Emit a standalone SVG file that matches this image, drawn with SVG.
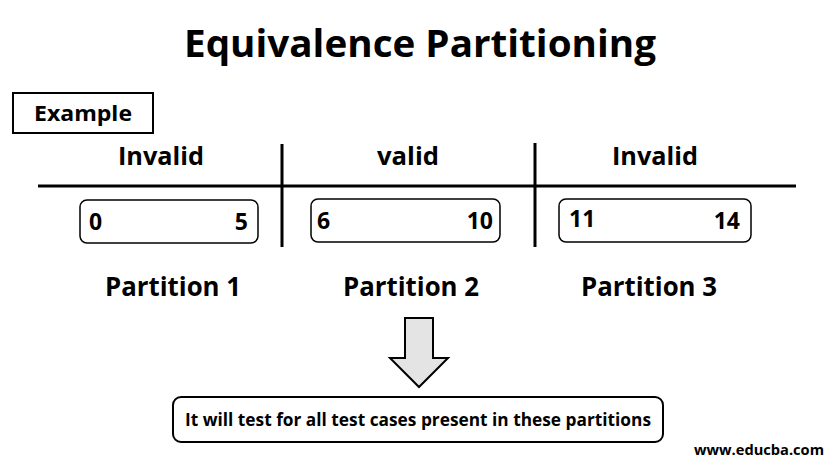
<svg xmlns="http://www.w3.org/2000/svg" width="840" height="471" viewBox="0 0 840 471">
<style>
text{font-family:"Open Sans","Noto Sans","Liberation Sans",sans-serif;font-weight:bold;fill:#000}
.c{text-anchor:middle}
.e{text-anchor:end}
.n{font-size:23px}
.box{fill:#fff;stroke:#000;stroke-width:1.5}
.ln{stroke:#000;stroke-width:3;fill:none}
</style>
<rect width="840" height="471" fill="#fff"/>
<g id="title"><text x="420" y="57" class="c" font-size="38" textLength="472" lengthAdjust="spacingAndGlyphs">Equivalence Partitioning</text></g>
<g id="example"><rect x="13" y="93" width="140" height="40" fill="#fff" stroke="#000" stroke-width="2"/><text x="83" y="121" class="c" font-size="21" textLength="98" lengthAdjust="spacingAndGlyphs">Example</text></g>
<g id="connectors">
<line class="ln" x1="38" y1="186" x2="796" y2="186"/>
<line class="ln" x1="282" y1="144" x2="282" y2="247"/>
<line class="ln" x1="535" y1="143" x2="535" y2="247"/>
<path d="M405,318 H433 V358 H448 L419,387 L390,358 H405 Z" fill="#e4e4e4" stroke="#000" stroke-width="2" stroke-linejoin="miter"/>
</g>
<g id="header1"><text x="161" y="165" class="c" font-size="25" textLength="86" lengthAdjust="spacingAndGlyphs">Invalid</text></g>
<g id="header2"><text x="408" y="165" class="c" font-size="25" textLength="62" lengthAdjust="spacingAndGlyphs">valid</text></g>
<g id="header3"><text x="655" y="165" class="c" font-size="25" textLength="86" lengthAdjust="spacingAndGlyphs">Invalid</text></g>
<g id="range1"><rect class="box" x="80" y="200" width="178" height="43" rx="7"/><text x="89" y="230" class="n">0</text><text x="248" y="230" class="e n">5</text></g>
<g id="range2"><rect class="box" x="311" y="199" width="189" height="43" rx="7"/><text x="317" y="229" class="n">6</text><text x="493" y="229" class="e n">10</text></g>
<g id="range3"><rect class="box" x="559" y="199" width="192" height="43" rx="7"/><text x="569" y="227" class="n">11</text><text x="740" y="229" class="e n">14</text></g>
<g id="partition1"><text x="173" y="296" class="c" font-size="27" textLength="136" lengthAdjust="spacingAndGlyphs">Partition 1</text></g>
<g id="partition2"><text x="411" y="296" class="c" font-size="27" textLength="136" lengthAdjust="spacingAndGlyphs">Partition 2</text></g>
<g id="partition3"><text x="649" y="296" class="c" font-size="27" textLength="136" lengthAdjust="spacingAndGlyphs">Partition 3</text></g>
<g id="result"><rect x="173" y="397" width="490" height="45" rx="8" fill="#fff" stroke="#000" stroke-width="2"/><text x="418" y="426" class="c" font-size="17" textLength="466" lengthAdjust="spacingAndGlyphs">It will test for all test cases present in these partitions</text></g>
<g id="watermark"><text x="759" y="455" class="c" font-size="15" textLength="130" lengthAdjust="spacingAndGlyphs">www.educba.com</text></g>
</svg>
